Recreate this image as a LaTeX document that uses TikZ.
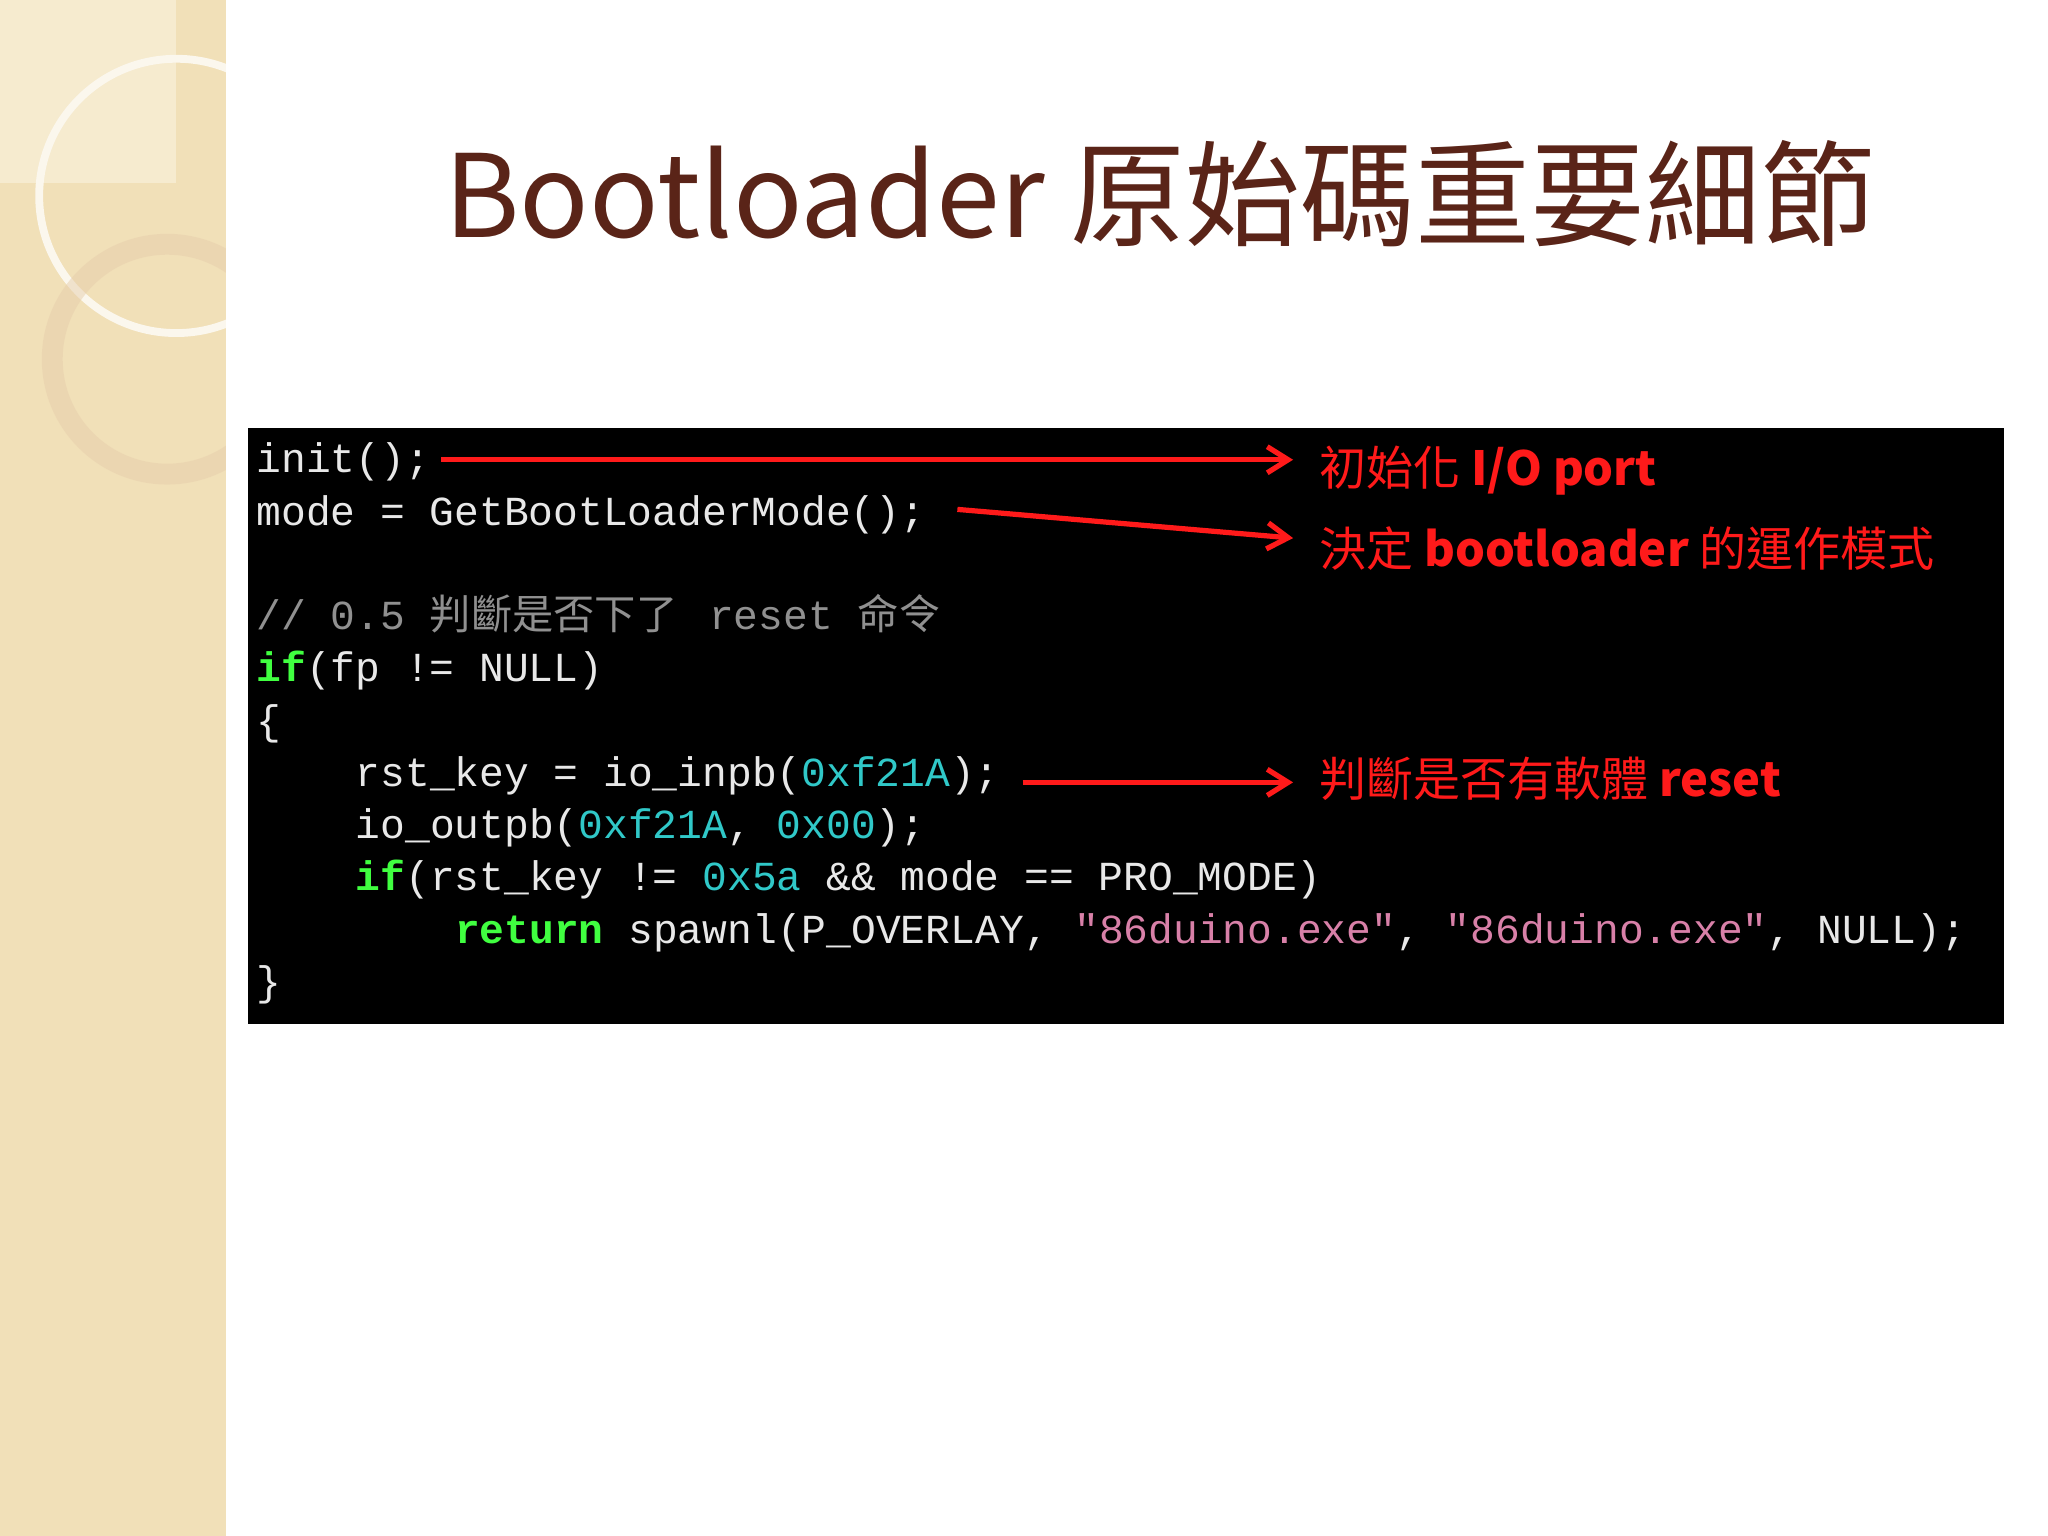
\documentclass[tikz,border=0pt]{standalone}
\usetikzlibrary{arrows.meta}
\usepackage{fontspec}
\setmonofont{Liberation Mono}
\newfontfamily\cjk{Noto Sans CJK TC}
\definecolor{beige}{HTML}{F1E0B8}
\definecolor{beigel}{HTML}{F6EBCF}
\definecolor{titlec}{HTML}{5A2418}
\definecolor{codew}{HTML}{E8E8E8}
\definecolor{codeg}{HTML}{909090}
\definecolor{kw}{HTML}{40FF40}
\definecolor{hexc}{HTML}{30C8C8}
\definecolor{strc}{HTML}{D880A8}
\definecolor{redc}{HTML}{FF1A1A}
\begin{document}
\begin{tikzpicture}[x=0.5pt,y=-0.5pt,
  code/.style={anchor=base west,inner sep=0pt,font=\ttfamily\fontsize{15.8}{18}\selectfont,text=codew},
  lab/.style={anchor=base west,inner sep=0pt,font=\cjk\fontsize{18}{20}\selectfont,text=redc},
  arr/.style={draw=redc,line width=2pt,-{Straight Barb[length=8pt,width=10pt]}}]
\useasboundingbox (0,0) rectangle (1568,1176);
\fill[white] (0,0) rectangle (1568,1176);
\fill[beige] (0,0) rectangle (173,1176);
\fill[beigel] (0,0) rectangle (135,140);
\begin{scope}
\clip (0,0) rectangle (173,1176);
\draw[white!75!beige,line width=3pt] (135,150) circle (105);
\draw[beige!60!brown!70!white,line width=8pt,opacity=0.5] (128,275) circle (88);
\end{scope}
\node[inner sep=0pt,text=titlec,font=\cjk\fontsize{44}{50}\selectfont] (title) at (888,148) {Bootloader 原始碼重要細節};
\fill[black] (190,328) rectangle (1534,784);
\node[code] (l1) at (196,362) {init();};
\node[code] (l2) at (196,402) {mode = GetBootLoaderMode();};
\node[code,text=codeg] (l3) at (196,482) {// 0.5 {\cjk 判斷是否下了\,} reset {\cjk 命令}};
\node[code] (l4) at (196,522) {\textcolor{kw}{\bfseries if}(fp != NULL)};
\node[code] (l5) at (196,562) {\{};
\node[code] (l6) at (272,602) {rst\_key = io\_inpb(\textcolor{hexc}{0xf21A});};
\node[code] (l7) at (272,642) {io\_outpb(\textcolor{hexc}{0xf21A}, \textcolor{hexc}{0x00});};
\node[code] (l8) at (272,682) {\textcolor{kw}{\bfseries if}(rst\_key != \textcolor{hexc}{0x5a} \&\& mode == PRO\_MODE)};
\node[code] (l9) at (348,722) {\textcolor{kw}{\bfseries return} spawnl(P\_OVERLAY, \textcolor{strc}{"86duino.exe"}, \textcolor{strc}{"86duino.exe"}, NULL);};
\node[code] (l10) at (196,762) {\}};
\node[lab] (a1) at (1010,372) {初始化 \textbf{I/O port}};
\node[lab] (a2) at (1010,434) {決定 \textbf{bootloader} 的運作模式};
\node[lab] (a3) at (1010,610) {判斷是否有軟體 \textbf{reset}};
\coordinate (s1) at (338,352); \coordinate (e1) at (990,352);
\coordinate (s2) at (733,390); \coordinate (e2) at (990,412);
\coordinate (s3) at (783,599); \coordinate (e3) at (990,599);
\draw[arr] (s1) -- (e1);
\draw[arr] (s2) -- (e2);
\draw[arr] (s3) -- (e3);
\end{tikzpicture}
\end{document}
